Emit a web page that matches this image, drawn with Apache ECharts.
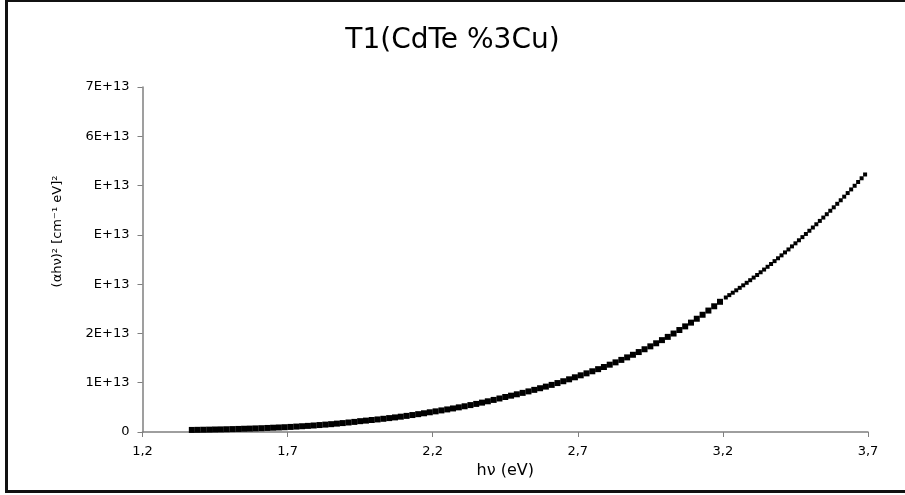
<!DOCTYPE html>
<html>
<head>
<meta charset="utf-8">
<script src="https://cdn.jsdelivr.net/npm/echarts@6/dist/echarts.min.js"></script>
<style>
    body { margin: 0; background: #fff; overflow: hidden; }
    #wrap { position: relative; width: 905px; height: 495px; overflow: hidden; }
    #t1-chart { width: 905px; height: 495px; }
    #frame {
        position: absolute; left: 5px; top: 0; width: 897px; height: 488px;
        border-top: 2px solid #111; border-left: 3px solid #111; border-bottom: 3px solid #111;
        pointer-events: none;
    }
</style>
</head>
<body>
<div id="wrap">
    <div id="t1-chart"></div>
    <div id="frame"></div>
</div>
<script>
// values, y in units of 1E+13 cm^-2 eV^2
var lowE = [1.37, 1.39, 1.41, 1.43, 1.45, 1.47, 1.49, 1.51, 1.53, 1.55, 1.57, 1.59, 1.61, 1.63, 1.65, 1.67, 1.69,
    1.71, 1.73, 1.75, 1.77, 1.79, 1.81, 1.83, 1.85, 1.87, 1.89, 1.91, 1.93, 1.95, 1.97, 1.99,
    2.01, 2.03, 2.05, 2.07, 2.09, 2.11, 2.13, 2.15, 2.17, 2.19, 2.21, 2.23, 2.25, 2.27, 2.29,
    2.31, 2.33, 2.35, 2.37, 2.39, 2.41, 2.43, 2.45, 2.47, 2.49, 2.51, 2.53, 2.55, 2.57, 2.59,
    2.61, 2.63, 2.65, 2.67, 2.69, 2.71, 2.73, 2.75, 2.77, 2.79, 2.81, 2.83, 2.85, 2.87, 2.89,
    2.91, 2.93, 2.95, 2.97, 2.99, 3.01, 3.03, 3.05, 3.07, 3.09, 3.11, 3.13, 3.15, 3.17, 3.19];
var lowV = [0.042, 0.044, 0.046, 0.048, 0.051, 0.053, 0.056, 0.059, 0.062, 0.066, 0.069, 0.073, 0.077, 0.082, 0.087, 0.092, 0.097,
    0.103, 0.110, 0.117, 0.124, 0.132, 0.141, 0.150, 0.159, 0.170, 0.181, 0.193, 0.205, 0.220, 0.231, 0.243,
    0.255, 0.268, 0.282, 0.296, 0.311, 0.327, 0.344, 0.362, 0.380, 0.400, 0.419, 0.438, 0.458, 0.478, 0.500,
    0.522, 0.546, 0.570, 0.596, 0.623, 0.651, 0.680, 0.710, 0.737, 0.765, 0.794, 0.824, 0.855, 0.888, 0.921,
    0.956, 0.993, 1.030, 1.069, 1.110, 1.150, 1.190, 1.232, 1.275, 1.319, 1.366, 1.413, 1.463, 1.514, 1.567,
    1.622, 1.679, 1.738, 1.800, 1.864, 1.930, 1.998, 2.069, 2.143, 2.219, 2.298, 2.379, 2.464, 2.551, 2.642];

var upE = [3.21, 3.222, 3.234, 3.246, 3.258, 3.27, 3.282, 3.294, 3.306, 3.318, 3.33, 3.342, 3.354, 3.366,
    3.378, 3.39, 3.402, 3.414, 3.426, 3.438, 3.45, 3.462, 3.474, 3.486, 3.498, 3.51, 3.522, 3.534,
    3.546, 3.558, 3.57, 3.582, 3.594, 3.606, 3.618, 3.63, 3.642, 3.654, 3.666, 3.678, 3.69];
var upV = [2.729, 2.777, 2.826, 2.875, 2.925, 2.976, 3.027, 3.080, 3.133, 3.186, 3.241, 3.296, 3.352, 3.409,
    3.467, 3.525, 3.584, 3.644, 3.704, 3.766, 3.828, 3.890, 3.954, 4.018, 4.083, 4.149, 4.215, 4.283,
    4.351, 4.419, 4.489, 4.559, 4.630, 4.702, 4.775, 4.848, 4.922, 4.996, 5.072, 5.148, 5.225];

var xTicks = [1.2, 1.7, 2.2, 2.7, 3.2, 3.7];
var xTickLabels = ['1,2', '1,7', '2,2', '2,7', '3,2', '3,7'];
var yTickLabels = ['0', '1E+13', '2E+13', 'E+13', 'E+13', 'E+13', '6E+13', '7E+13'];

function pairs(xs, ys) {
    var out = [];
    for (var i = 0; i < xs.length; i++) {
        out.push([xs[i], ys[i]]);
    }
    return out;
}

var axisGray = '#7f7f7f';
var font = 'DejaVu Sans';

var option = {
    animation: false,
    title: {
        text: 'T1(CdTe %3Cu)',
        left: 'center',
        top: 22,
        textStyle: { fontFamily: font, fontSize: 28, fontWeight: 'normal', color: '#000' }
    },
    grid: { left: 142.5, right: 37, top: 87, bottom: 63, containLabel: false },
    xAxis: {
        type: 'value',
        min: 1.2,
        max: 3.7,
        name: 'hν (eV)',
        nameLocation: 'middle',
        nameGap: 28,
        nameTextStyle: { fontFamily: font, fontSize: 16, color: '#000' },
        axisLine: { lineStyle: { color: axisGray, width: 1.5 } },
        axisTick: { show: true, length: 5, customValues: xTicks, lineStyle: { color: axisGray } },
        axisLabel: {
            customValues: xTicks,
            margin: 13,
            fontFamily: font,
            fontSize: 13,
            color: '#000',
            formatter: function (v) {
                for (var i = 0; i < xTicks.length; i++) {
                    if (Math.abs(xTicks[i] - v) < 1e-6) return xTickLabels[i];
                }
                return '';
            }
        },
        splitLine: { show: false }
    },
    yAxis: {
        type: 'value',
        min: 0,
        max: 7,
        interval: 1,
        name: '(αhν)² [cm⁻¹ eV]²',
        nameLocation: 'middle',
        nameGap: 78,
        nameTextStyle: { fontFamily: font, fontSize: 13, color: '#000', padding: [0, 0, 0, 56] },
        axisLine: { show: true, lineStyle: { color: axisGray, width: 1.5 } },
        axisTick: { show: true, length: 5, lineStyle: { color: axisGray } },
        axisLabel: {
            margin: 13,
            fontFamily: font,
            fontSize: 13,
            color: '#000',
            formatter: function (v) {
                return yTickLabels[Math.round(v)];
            }
        },
        splitLine: { show: false }
    },
    series: [{
        name: 'T1',
        type: 'scatter',
        symbol: 'rect',
        symbolSize: 6,
        itemStyle: { color: '#000', opacity: 1 },
        data: pairs(lowE, lowV)
    }, {
        name: 'T1',
        type: 'scatter',
        symbol: 'rect',
        symbolSize: 4,
        itemStyle: { color: '#000', opacity: 1 },
        data: pairs(upE, upV)
    }]
};

var t1Chart = echarts.init(document.getElementById('t1-chart'));
t1Chart.setOption(option);
</script>
</body>
</html>
